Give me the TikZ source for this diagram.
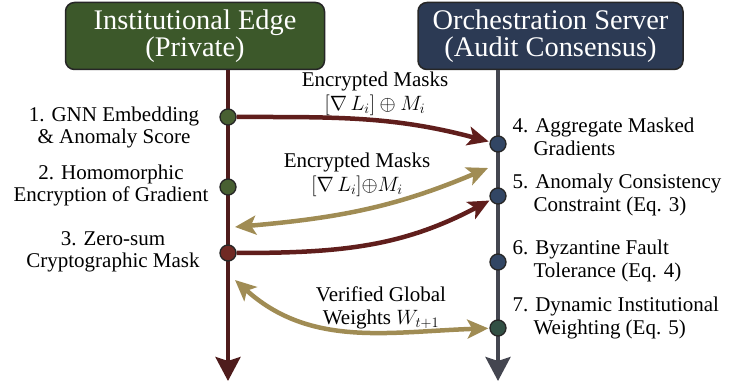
\documentclass[tikz,border=0pt]{standalone}
\usepackage{fontspec}
\setmainfont{Liberation Serif}
\usetikzlibrary{arrows.meta}

\definecolor{edgegreen}{RGB}{60,88,42}
\definecolor{servernavy}{RGB}{44,58,84}
\definecolor{edgemaroon}{RGB}{78,28,28}
\definecolor{arrowmaroon}{RGB}{96,30,28}
\definecolor{servergray}{RGB}{68,70,80}
\definecolor{fluxgold}{RGB}{160,140,84}
\definecolor{dotgreen}{RGB}{72,96,50}
\definecolor{dotred}{RGB}{112,42,36}
\definecolor{dotblue}{RGB}{50,70,100}
\definecolor{dotteal}{RGB}{50,80,68}

\begin{document}
\begin{tikzpicture}[x=1pt,y=-1pt,
    headbox/.style={draw=black!85,line width=1.5pt,rounded corners=9pt,
      minimum height=67pt,text=white,align=center,
      font=\fontsize{28.4}{27.5}\selectfont},
    dot/.style={circle,draw=black!85,line width=1.3pt,minimum size=16pt,inner sep=0pt},
    leftlbl/.style={align=center,font=\fontsize{21}{22}\selectfont},
    rightlbl/.style={anchor=west,align=left,font=\fontsize{21}{22.5}\selectfont},
    msglbl/.style={align=center,font=\fontsize{21}{23.5}\selectfont},
    redflow/.style={draw=arrowmaroon,line width=4.5pt,
      -{Stealth[length=21pt,width=19pt,inset=5pt]},shorten >=1pt},
    goldflow/.style={draw=fluxgold,line width=4.5pt,
      {Stealth[length=21pt,width=19pt,inset=5pt]}-{Stealth[length=21pt,width=19pt,inset=5pt]}}]
  \useasboundingbox (0,0) rectangle (729,382);

  % headers
  \node[headbox,fill=edgegreen,minimum width=259pt] (edge) at (195,36)
    {Institutional Edge\\(Private)};
  \node[headbox,fill=servernavy,minimum width=265pt] (server) at (550.5,36)
    {Orchestration Server\\(Audit Consensus)};

  % time lines
  \coordinate (edgeend) at (228,381);
  \coordinate (serverend) at (498,381);
  \draw[edgemaroon,line width=4pt,-{Stealth[length=24pt,width=25pt,inset=4pt]}]
    (edge.south -| edgeend) -- (edgeend);
  \draw[servergray,line width=4pt,-{Stealth[length=24pt,width=25pt,inset=4pt]}]
    (server.south -| serverend) -- (serverend);

  % steps
  \node[dot,fill=dotgreen] (d1) at (228,117) {};
  \node[dot,fill=dotgreen] (d2) at (228,187) {};
  \node[dot,fill=dotred] (d3) at (228,253) {};
  \node[dot,fill=dotblue] (s4) at (498,144) {};
  \node[dot,fill=dotblue] (s5) at (498,196) {};
  \node[dot,fill=dotblue] (s6) at (498,262) {};
  \node[dot,fill=dotteal] (s7) at (498,328) {};

  \node[leftlbl] (l1) at (114,127) {1. GNN Embedding\\\& Anomaly Score};
  \node[leftlbl] (l2) at (111,185) {2. Homomorphic\\Encryption of Gradient};
  \node[leftlbl] (l3) at (113,252) {3. Zero-sum\\Cryptographic Mask};

  \node[rightlbl] (r4) at (509,137) {4. Aggregate Masked\\\hspace*{1em}Gradients};
  \node[rightlbl] (r5) at (509,195) {5. Anomaly Consistency\\\hspace*{1em}Constraint (Eq. 3)};
  \node[rightlbl] (r6) at (509,261) {6. Byzantine Fault\\\hspace*{1em}Tolerance (Eq. 4)};
  \node[rightlbl] (r7) at (509,318) {7. Dynamic Institutional\\\hspace*{1em}Weighting (Eq. 5)};

  % messages
  \coordinate (g2a) at (235,227);
  \coordinate (g2b) at (488,168);
  \coordinate (g4a) at (235,280);
  \draw[redflow] (d1) to[out=0,in=165] (s4);
  \draw[goldflow] (g2a) to[out=5,in=203] (g2b);
  \draw[redflow] (d3) to[out=0,in=208] (s5);
  \draw[goldflow,shorten >=1pt] (g4a) to[out=-42,in=182] (s7);

  \node[msglbl] (m1) at (375,94) {Encrypted Masks\\$[\nabla\, L_i]\oplus M_i$};
  \node[msglbl] (m2) at (357,175) {Encrypted Masks\\$[\nabla\, L_i]{\oplus}M_i$};
  \node[msglbl] (m3) at (381,308) {Verified Global\\Weights $W_{t+1}$};
\end{tikzpicture}
\end{document}
